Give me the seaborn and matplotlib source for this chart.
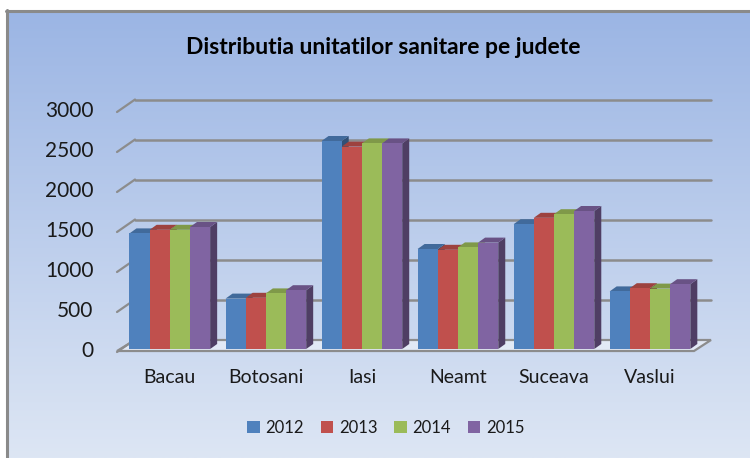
import numpy as np
import pandas as pd
import matplotlib
matplotlib.use("Agg")
import matplotlib.pyplot as plt
import seaborn as sns
from matplotlib.patches import Polygon, Rectangle
from matplotlib.lines import Line2D
from matplotlib.transforms import IdentityTransform

# ---------------- data ----------------
judete = ["Bacau", "Botosani", "Iasi", "Neamt", "Suceava", "Vaslui"]
ani = ["2012", "2013", "2014", "2015"]
v2012 = [1445, 630, 2600, 1250, 1560, 720]
v2013 = [1490, 640, 2530, 1240, 1640, 760]
v2014 = [1490, 695, 2570, 1270, 1685, 755]
v2015 = [1525, 735, 2570, 1330, 1725, 810]
yticks = [0, 500, 1000, 1500, 2000, 2500, 3000]
title = "Distributia unitatilor sanitare pe judete"
colors = ["#4F81BD", "#C0504D", "#9BBB59", "#8064A2"]

rows = []
for an, vals in zip(ani, [v2012, v2013, v2014, v2015]):
    for j, v in zip(judete, vals):
        rows.append({"judet": j, "an": an, "valoare": v})
df = pd.DataFrame(rows)

W, H = 750, 458
sns.set_theme(style="white")
plt.rcParams["font.family"] = ["Lato", "DejaVu Sans"]

fig = plt.figure(figsize=(W / 100, H / 100), dpi=100)
fig.patch.set_facecolor("white")

def fx(px):
    return px / W

def fy(py):
    return 1 - py / H

# background gradient
bg = fig.add_axes([fx(6), 0, 1 - fx(6), fy(10)])
bg.set_axis_off()
bg.set_zorder(-1)
top_c = np.array([155, 181, 228]) / 255
bot_c = np.array([221, 230, 244]) / 255
t = np.linspace(0, 1, 256)[:, None]
grad = top_c[None, :] * (1 - t) + bot_c[None, :] * t
bg.imshow(grad[:, None, :], aspect="auto", extent=[0, 1, 0, 1], zorder=0)
bg.set_xlim(0, 1)
bg.set_ylim(0, 1)
fig.add_artist(Line2D([fx(6), 1], [fy(11), fy(11)], color="#8a8a8a", lw=2.2,
                      transform=fig.transFigure))
fig.add_artist(Line2D([fx(7), fx(7)], [0, fy(10)], color="#8a8a8a", lw=2.2,
                      transform=fig.transFigure))

# main axes (front plane of the bars)
ax = fig.add_axes([fx(117), fy(349), fx(698) - fx(117), fy(109) - fy(349)])
ax.patch.set_alpha(0)
sns.barplot(data=df, x="judet", y="valoare", hue="an", palette=colors,
            hue_order=ani, order=judete, width=0.84, saturation=1,
            edgecolor="none", linewidth=0, errorbar=None, ax=ax)
ax.set_xlim(-0.55, 5.5)
ax.set_ylim(0, 3000)
for s in ax.spines.values():
    s.set_visible(False)
ax.set_xlabel("")
ax.set_ylabel("")
ax.set_yticks(yticks)
ax.set_yticklabels([str(v) for v in yticks], fontsize=15, color="#1a1a1a")
ax.tick_params(axis="y", length=0, pad=17)
ax.tick_params(axis="x", length=0, pad=14.5, labelsize=14, labelcolor="#1a1a1a")

if ax.get_legend() is not None:
    ax.get_legend().remove()

fig.canvas.draw()
T = ax.transData
ident = IdentityTransform()

def px2disp(x, y):
    # pixel coords from top-left -> display coords
    return (x, H - y)

# floor
floor = [px2disp(117, 351), px2disp(694, 351), px2disp(711, 340), px2disp(135, 340)]
ax.add_patch(Polygon(floor, closed=True, facecolor="#e2e9f5", edgecolor="#8c8c8c",
                     lw=1.6, transform=ident, zorder=0.5, clip_on=False))

# gridlines on back wall and depth lines on the left
for v in yticks:
    xd, yd = T.transform((0, v))
    yf = yd - 3
    yb = yd + 9.5
    if v > 0:
        ax.add_line(Line2D([135, 711], [yb, yb], color="#8c8c8c", lw=1.8,
                           transform=ident, zorder=0.6, clip_on=False))
    ax.add_line(Line2D([117, 135], [yf, yb], color="#8c8c8c", lw=1.6,
                       transform=ident, zorder=0.6, clip_on=False))

# 3D tops and sides of bars
dx, dy = 7, 5
def shade(c, f):
    r = np.array(matplotlib.colors.to_rgb(c))
    return tuple(r * f)

for ci, cont in enumerate(ax.containers):
    base = colors[ci]
    for p in cont:
        x0, y0 = p.get_x(), p.get_y()
        w, h = p.get_width(), p.get_height()
        (X0, Y0) = T.transform((x0, y0))
        (X1, Y1) = T.transform((x0 + w, y0 + h))
        p.set_zorder(3)
        side = Polygon([(X1, Y0), (X1, Y1), (X1 + dx, Y1 + dy), (X1 + dx, Y0 + dy)],
                       closed=True, facecolor=shade(base, 0.62), edgecolor="none",
                       transform=ident, zorder=2.5, clip_on=False)
        top = Polygon([(X0, Y1), (X1, Y1), (X1 + dx, Y1 + dy), (X0 + dx, Y1 + dy)],
                      closed=True, facecolor=shade(base, 0.82), edgecolor="none",
                      transform=ident, zorder=2.5, clip_on=False)
        ax.add_patch(side)
        ax.add_patch(top)

# title
fig.text(fx(383), fy(47), title, ha="center", va="center", fontsize=16.5,
         fontweight="bold", color="black")

# legend
leg_handles = [Rectangle((0, 0), 1, 1, facecolor=c, edgecolor="none") for c in colors]
fig.legend(leg_handles, ani, loc="center", bbox_to_anchor=(fx(386), fy(428)),
           ncol=4, frameon=False, fontsize=12, handlelength=0.75, handleheight=0.75,
           handletextpad=0.35, columnspacing=1.0, labelcolor="#1a1a1a")

fig.savefig("out.png", dpi=100, facecolor=fig.get_facecolor())
